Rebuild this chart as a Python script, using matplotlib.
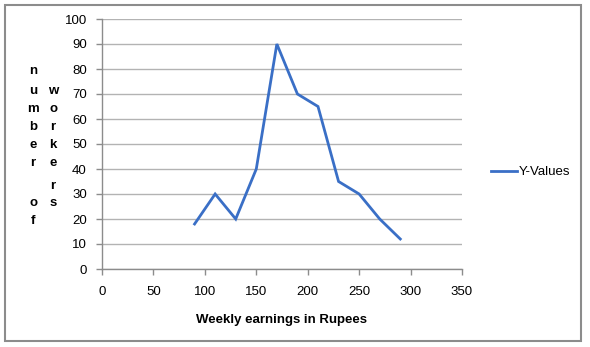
import matplotlib.pyplot as plt
from matplotlib.patches import Rectangle

# data
earnings = [90, 110, 130, 150, 170, 190, 210, 230, 250, 270, 290]
workers = [18, 30, 20, 40, 90, 70, 65, 35, 30, 20, 12]
x_ticks = [0, 50, 100, 150, 200, 250, 300, 350]
y_ticks = [0, 10, 20, 30, 40, 50, 60, 70, 80, 90, 100]

plt.rcParams['font.family'] = ['Liberation Sans', 'DejaVu Sans']
W, H = 590, 347
fig = plt.figure(figsize=(W / 100, H / 100), dpi=100)

# outer chart border
fig.patches.append(Rectangle((4.5 / W, 1 - 340.5 / H), 576.5 / W, 336 / H,
                             transform=fig.transFigure, fill=False,
                             edgecolor='#8c8c8c', linewidth=1.5))

ax = fig.add_axes([102 / W, 1 - 269 / H, 360 / W, 250 / H])
ax.plot(earnings, workers, color='#3a6fc6', linewidth=2.0, label='Y-Values',
        solid_joinstyle='miter')

ax.set_xlim(0, 350)
ax.set_ylim(0, 100)
ax.set_xticks(x_ticks)
ax.set_yticks(y_ticks)
ax.grid(axis='y', color='#b3b3b3', linewidth=1.0)
ax.set_axisbelow(True)
for s in ['top', 'right']:
    ax.spines[s].set_visible(False)
for s in ['left', 'bottom']:
    ax.spines[s].set_color('#8c8c8c')
    ax.spines[s].set_linewidth(1.0)
ax.tick_params(colors='#8c8c8c', labelcolor='black', labelsize=9.5, length=4,
               width=1.0)
ax.tick_params(axis='x', pad=8)
ax.tick_params(axis='y', pad=7)

ax.set_xlabel('Weekly earnings in Rupees', fontsize=9.5, fontweight='bold',
              labelpad=12)

# y label written as stacked letters in two columns
col1 = ['n', 'u', 'm', 'b', 'e', 'r', '', 'o', 'f']
col1_y = [71, 91, 109, 127, 145, 163, 183, 203, 221]
col2 = ['w', 'o', 'r', 'k', 'e', 'r', 's']
col2_y = [91, 109, 127, 145, 163, 186, 203]
for ch, y in zip(col1, col1_y):
    fig.text(33 / W, 1 - y / H, ch, fontsize=9.5, fontweight='bold',
             ha='center', va='center')
for ch, y in zip(col2, col2_y):
    fig.text(53 / W, 1 - y / H, ch, fontsize=9.5, fontweight='bold',
             ha='center', va='center')

leg = ax.legend(loc='center left', bbox_to_anchor=(491 / W, 1 - 172 / H),
                bbox_transform=fig.transFigure, frameon=False, fontsize=9.5,
                handlelength=2.0, handletextpad=0.1, borderpad=0,
                borderaxespad=0)

fig.savefig('out.png', dpi=100)
